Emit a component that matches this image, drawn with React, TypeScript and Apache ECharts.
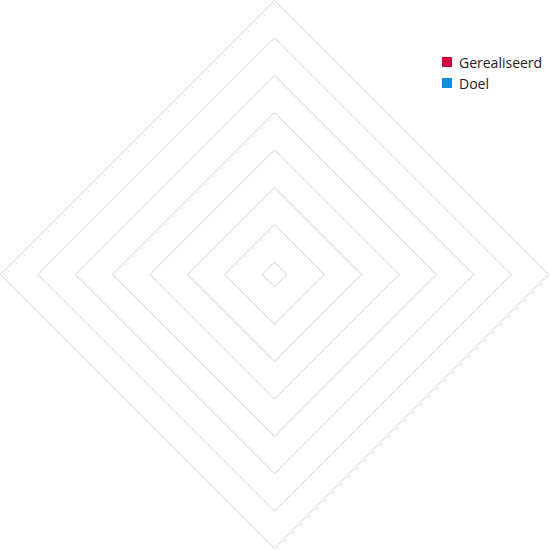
import React, { useEffect, useRef } from "react";
import * as echarts from "echarts";

const indicatorNames = ["", "", "", ""];
const indicatorMax = 22;
const seriesNames = ["Gerealiseerd", "Doel"];
const realisedValues = [0, 0, 0, 0];
const targetValues = [0, 0, 0, 0];
const seriesColors = ["#d0043c", "#0a8ee6"];

export default function App() {
  const ref = useRef<HTMLDivElement>(null);
  useEffect(() => {
    if (!ref.current) return;
    const chart = echarts.init(ref.current, null, { renderer: "svg" });
    chart.setOption({
      animation: false,
      color: seriesColors,
      legend: {
        orient: "vertical",
        left: 442,
        top: 55,
        padding: 0,
        icon: "rect",
        itemWidth: 10,
        itemHeight: 10,
        itemGap: 7,
        textStyle: {
          fontFamily: "Open Sans",
          fontSize: 14,
          lineHeight: 14,
          color: "#222",
          padding: [0, 0, 0, 2],
        },
        data: seriesNames,
      },
      radar: {
        center: [274.5, 274.5],
        radius: 274,
        shape: "polygon",
        splitNumber: 22,
        startAngle: 90,
        indicator: indicatorNames.map((n) => ({ name: n, min: 0, max: indicatorMax })),
        axisName: { show: false },
        axisLine: { show: false },
        axisTick: { show: false },
        axisLabel: { show: false },
        splitArea: { show: false },
        splitLine: {
          show: true,
          lineStyle: { color: ["transparent", "#d0d0d0", "transparent"], width: 1 },
        },
      },
      series: [
        {
          type: "radar",
          symbol: "none",
          lineStyle: { width: 0 },
          data: [
            { name: seriesNames[0], value: realisedValues },
            { name: seriesNames[1], value: targetValues },
          ],
        },
      ],
    });
    return () => chart.dispose();
  }, []);
  return (
    <div
      ref={ref}
      style={{ position: "absolute", left: 0, top: 0, width: 550, height: 550 }}
    />
  );
}
